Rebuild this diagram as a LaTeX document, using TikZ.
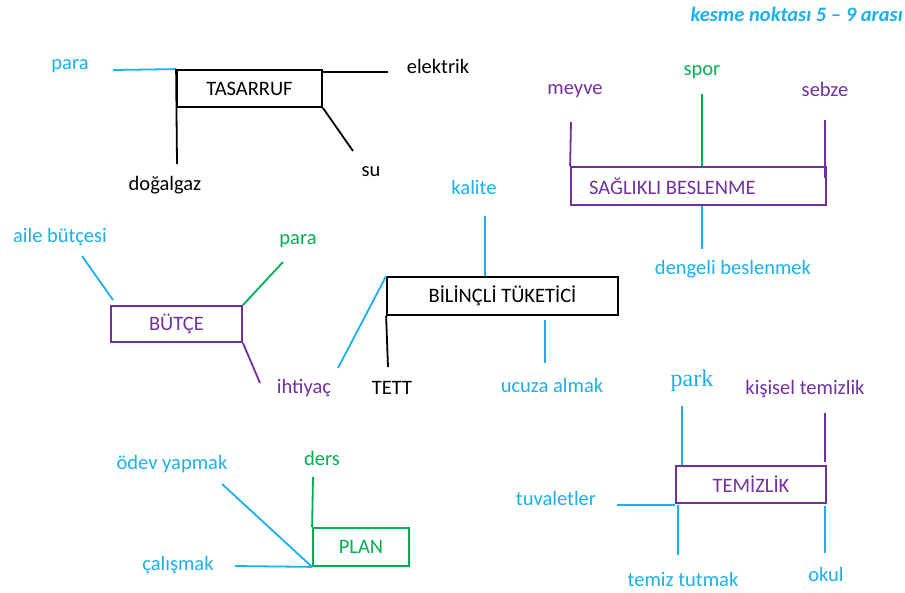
\documentclass[tikz,border=0pt]{standalone}
\usepackage{fontspec}
\setmainfont{Carlito}
\newfontfamily\parkfont{Liberation Serif}
\definecolor{skyb}{HTML}{1AB0EC}
\definecolor{plum}{HTML}{7030A0}
\definecolor{leaf}{HTML}{00B050}
\begin{document}
\begin{tikzpicture}[x=1pt,y=-1pt,
  lbl/.style={inner sep=0pt, font=\fontsize{20.5}{24}\selectfont},
  ln/.style={line width=1.8pt},
  boxn/.style={draw, line width=1.8pt, inner sep=0pt, font=\fontsize{20.5}{24}\selectfont}]
\useasboundingbox (0,0) rectangle (905,592);

\node[lbl, anchor=east, text=skyb, font=\fontsize{20.5}{24}\selectfont\bfseries\itshape] (title) at (903,14) {kesme noktası 5 – 9 arası};

% TASARRUF
\node[boxn, minimum width=145pt, minimum height=37pt] (tas) at (249.5,88.5) {TASARRUF};
\node[lbl, text=skyb] (tpara) at (70,66) {para};
\node[lbl] (telek) at (438,66) {elektrik};
\node[lbl] (tdog) at (165,185) {doğalgaz};
\node[lbl] (tsu) at (371,172) {su};
\coordinate (p1) at (113,70);
\coordinate (e1) at (388,72);
\coordinate (d1) at (177,164);
\coordinate (s1) at (353,151);
\draw[ln, skyb] (p1) -- (tas.north west);
\draw[ln] (e1) -- (e1 -| tas.east);
\draw[ln] (tas.north west) -- (d1);
\draw[ln] (tas.south east) -- (s1);

% SAĞLIKLI BESLENME
\node[boxn, draw=plum, text=plum, minimum width=255pt, minimum height=38pt] (sb) at (698.5,186) {};
\node[lbl, text=plum, anchor=west] (tsb) at (589,186) {SAĞLIKLI BESLENME};
\node[lbl, text=plum] (tmey) at (575,91) {meyve};
\node[lbl, text=leaf] (tspor) at (702,72) {spor};
\node[lbl, text=plum] (tseb) at (825,89) {sebze};
\node[lbl, text=skyb] (tdeng) at (733,269) {dengeli beslenmek};
\coordinate (m1) at (571,122);
\coordinate (sp1) at (702,94);
\coordinate (se1) at (825,120);
\coordinate (se2) at (825,178);
\coordinate (dn1) at (702,249);
\draw[ln, plum] (m1) -- (sb.north west);
\draw[ln, plum] (se1) -- (se2);
\draw[ln, leaf] (sp1) -- (sp1 |- sb.north);
\draw[ln, skyb] (dn1) -- (dn1 |- sb.south);

% BİLİNÇLİ TÜKETİCİ
\node[boxn, minimum width=231pt, minimum height=38pt] (bt) at (502.5,296) {BİLİNÇLİ TÜKETİCİ};
\node[lbl, text=skyb] (tkal) at (474,187) {kalite};
\node[lbl] (ttett) at (392,388) {TETT};
\node[lbl, text=skyb] (tucz) at (552,385) {ucuza almak};
\coordinate (k1) at (485,216);
\coordinate (u1) at (545,320);
\coordinate (u2) at (545,363);
\coordinate (te1) at (388,367);
\coordinate (ih2) at (338,368);
\draw[ln, skyb] (k1) -- (k1 |- bt.north);
\draw[ln, skyb] (u1) -- (u2);
\draw[ln] (bt.south west) -- (te1);
\draw[ln, skyb] (bt.north west) -- (ih2);

% BÜTÇE
\node[boxn, draw=plum, text=plum, minimum width=131pt, minimum height=36pt] (bu) at (176.5,324) {BÜTÇE};
\node[lbl, text=skyb] (taile) at (60,237) {aile bütçesi};
\node[lbl, text=leaf] (tpara2) at (298,241) {para};
\node[lbl, text=plum] (tiht) at (304,388) {ihtiyaç};
\coordinate (a1) at (82,256);
\coordinate (a2) at (113,300);
\coordinate (pg1) at (283,262);
\coordinate (ip1) at (260,383);
\draw[ln, skyb] (a1) -- (a2);
\draw[ln, leaf] (pg1) -- (bu.north east);
\draw[ln, plum] (bu.south east) -- (ip1);

% PLAN
\node[boxn, draw=leaf, text=leaf, minimum width=96pt, minimum height=38pt] (pl) at (361,547) {PLAN};
\node[lbl, text=skyb] (todev) at (172,464) {ödev yapmak};
\node[lbl, text=leaf] (tders) at (322,458) {ders};
\node[lbl, text=skyb] (tcal) at (178,565) {çalışmak};
\coordinate (dr1) at (313,477);
\coordinate (od1) at (222,484);
\coordinate (cl1) at (235,566);
\draw[ln, leaf] (pl.north west) -- (dr1);
\draw[ln, skyb] (od1) -- (pl.south west);
\draw[ln, skyb] (cl1) -- (pl.south west);

% TEMİZLİK
\node[boxn, draw=plum, text=plum, minimum width=150pt, minimum height=37pt] (tm) at (751,484.5) {TEMİZLİK};
\node[lbl, text=skyb, font=\parkfont\fontsize{24}{28}\selectfont] (tpark) at (692,381) {park};
\node[lbl, text=plum] (tkis) at (805,389) {kişisel temizlik};
\node[lbl, text=skyb] (ttuv) at (556,498) {tuvaletler};
\node[lbl, text=skyb] (ttem) at (683,579) {temiz tutmak};
\node[lbl, text=skyb] (tokul) at (826,574) {okul};
\coordinate (pk1) at (682,406);
\coordinate (ks1) at (825,413);
\coordinate (ks2) at (825,462);
\coordinate (tv1) at (617,505);
\coordinate (tt1) at (678,505);
\coordinate (tt2) at (678,555);
\coordinate (ok1) at (825,506);
\coordinate (ok2) at (825,553);
\draw[ln, skyb] (pk1) -- (pk1 |- tm.north);
\draw[ln, plum] (ks1) -- (ks2);
\draw[ln, skyb] (tv1) -- (tv1 -| tm.west);
\draw[ln, skyb] (tt1) -- (tt2);
\draw[ln, skyb] (ok1) -- (ok2);
\end{tikzpicture}
\end{document}
